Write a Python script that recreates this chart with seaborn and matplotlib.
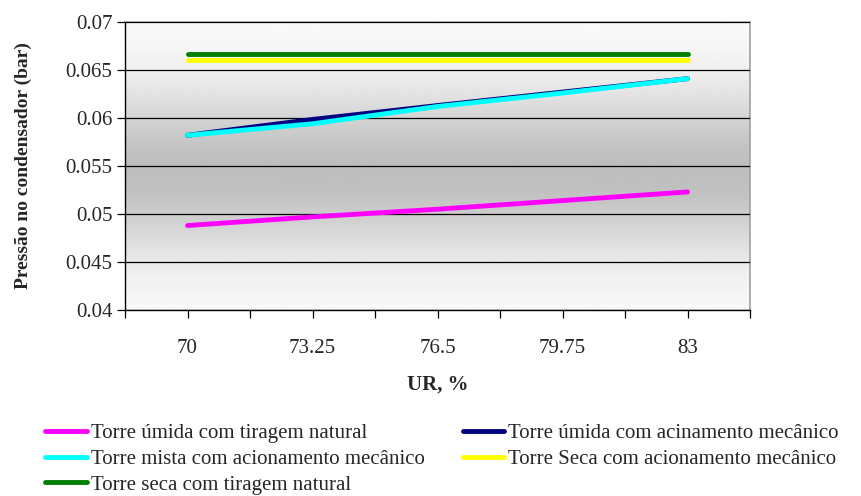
import numpy as np
import pandas as pd
import matplotlib
matplotlib.use('Agg')
import matplotlib.pyplot as plt
import seaborn as sns

# dados
ur = [70, 73.25, 76.5, 79.75, 83]
umida_natural = [0.0488, 0.0497, 0.0505, 0.0514, 0.0523]
umida_mecanico = [0.0582, 0.05985, 0.0613, 0.0627, 0.0641]
mista_mecanico = [0.0582, 0.0594, 0.0612, 0.0626, 0.0641]
seca_mecanico = [0.0660, 0.0660, 0.0660, 0.0660, 0.0660]
seca_natural = [0.0667, 0.0667, 0.0667, 0.0667, 0.0667]

series = {
    'Torre úmida com tiragem natural': umida_natural,
    'Torre úmida com acinamento mecânico': umida_mecanico,
    'Torre mista com acionamento mecânico': mista_mecanico,
    'Torre Seca com acionamento mecânico': seca_mecanico,
    'Torre seca com tiragem natural': seca_natural,
}
cores = ['#ff00ff', '#000080', '#00ffff', '#ffff00', '#008000']
larguras = [3.2, 2.0, 2.4, 3.6, 3.6]

df = pd.concat([pd.DataFrame({'UR': ur, 'p': v, 'serie': k}) for k, v in series.items()])

sns.set_style('white')
plt.rcParams['font.family'] = ['Liberation Serif', 'DejaVu Serif']

fig = plt.figure(figsize=(8.61, 4.96), dpi=100)
ax = fig.add_axes([0.1452, 0.375, 0.7259, 0.5806])

# fundo em degradê (estilo Excel)
t = np.linspace(0, 1, 256)
g = 0.985 - 0.24 * np.exp(-((t - 0.52) / 0.28) ** 2)
grad = np.tile(g[:, None], (1, 2))
ax.imshow(grad, cmap='gray', vmin=0, vmax=1, aspect='auto',
          extent=[0, 1, 0, 1], transform=ax.transAxes, zorder=0)

for i, (nome, v) in enumerate(series.items()):
    sns.lineplot(data=df[df['serie'] == nome], x='UR', y='p', color=cores[i],
                 lw=larguras[i], ax=ax, label=nome, zorder=3,
                 solid_capstyle='round')

ax.set_xlim(68.375, 84.625)
ax.set_ylim(0.04, 0.07)
ax.set_yticks(np.arange(0.04, 0.0701, 0.005))
ax.set_yticklabels(['0.04', '0.045', '0.05', '0.055', '0.06', '0.065', '0.07'])
xt = [68.375 + 1.625 * k for k in range(11)]
ax.set_xticks(xt)
ax.set_xticklabels(['', '70', '', '73.25', '', '76.5', '', '79.75', '', '83', ''])
ax.grid(axis='y', color='black', lw=0.9, zorder=1)
ax.set_axisbelow(False)
for l in ax.get_ygridlines():
    l.set_zorder(1)

ax.tick_params(axis='both', direction='out', length=6, width=0.9, color='black',
               labelsize=15, bottom=True, left=True)
ax.tick_params(axis='x', pad=15)
ax.tick_params(axis='y', pad=3)
for s in ['top', 'right']:
    ax.spines[s].set_color('#a0a0a0')
    ax.spines[s].set_linewidth(1.2)
for s in ['left', 'bottom']:
    ax.spines[s].set_color('black')
    ax.spines[s].set_linewidth(1.0)

ax.set_xlabel('UR, %', fontsize=15, fontweight='bold', labelpad=12)
ax.set_ylabel('Pressão no condensador (bar)', fontsize=14, fontweight='bold', labelpad=24)

h, lab = ax.get_legend_handles_labels()
ax.get_legend().remove()
for hh in h:
    hh.set_linewidth(3.5)
# ordem por linhas (2 colunas)
ordem = [0, 2, 4, 1, 3]
leg = fig.legend([h[i] for i in ordem], [lab[i] for i in ordem], loc='upper left',
                 bbox_to_anchor=(0.031, 0.184), bbox_transform=fig.transFigure,
                 ncol=2, frameon=False, fontsize=15, handlelength=2.0,
                 handletextpad=0.2, columnspacing=1.8, labelspacing=0.3)

fig.savefig('out.png', dpi=100)
